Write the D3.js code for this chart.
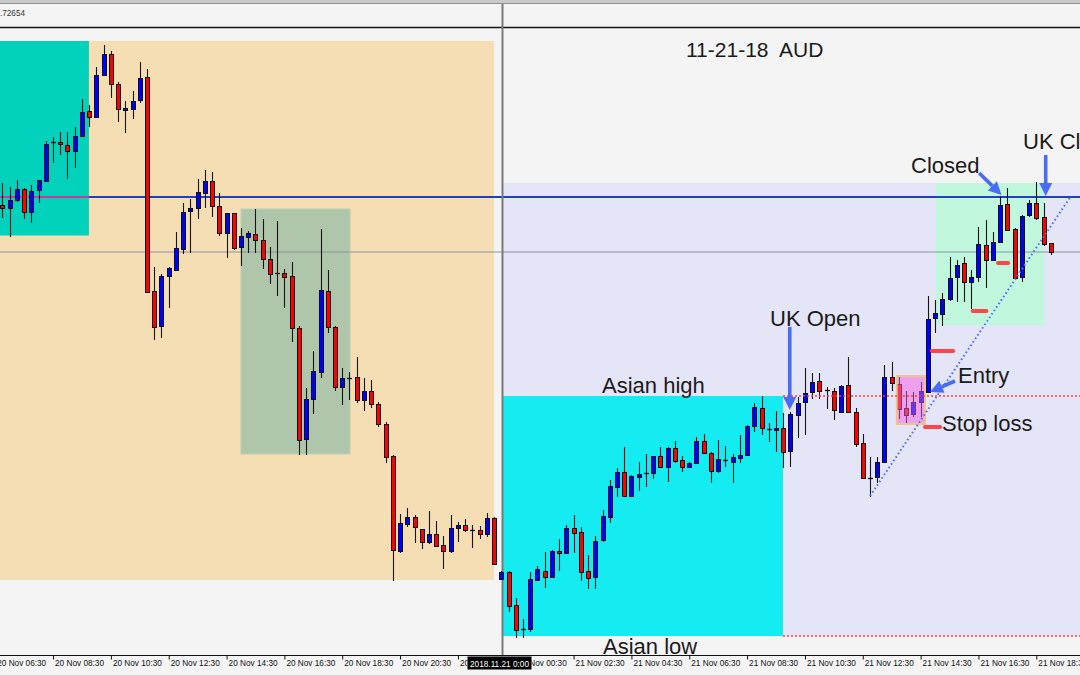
<!DOCTYPE html>
<html><head><meta charset="utf-8">
<script src="https://cdn.jsdelivr.net/npm/d3@7"></script>
<style>html,body{margin:0;padding:0;background:#f4f4f4;}svg{display:block;}</style>
</head><body>
<script>
// ---- DATA (AUD 15-minute candles, 20 Nov 06:45 → 21 Nov 19:00) ----
const firstCandleIndex = -69; // index relative to 2018-11-21 00:00, 15-minute steps
const open = [
0.72822,0.72819,0.72827,0.72838,0.72815,0.72837,0.72846,0.72884,0.72885,0.72882,
0.72876,0.72891,0.72916,0.72910,0.72952,0.72973,0.72943,0.72917,0.72918,0.72927,
0.72950,0.72736,0.72701,0.72751,0.72757,0.72778,0.72816,0.72819,0.72834,0.72846,
0.72821,0.72794,0.72814,0.72780,0.72790,0.72793,0.72787,0.72768,0.72754,0.72754,
0.72751,0.72699,0.72588,0.72628,0.72655,0.72736,0.72700,0.72640,0.72649,0.72650,
0.72627,0.72636,0.72623,0.72603,0.72571,0.72476,0.72503,0.72510,0.72498,0.72485,
0.72493,0.72482,0.72476,0.72499,0.72502,0.72497,0.72497,0.72493,0.72509,0.72448,
0.72455,0.72422,0.72398,0.72398,0.72447,0.72456,0.72450,0.72476,0.72474,0.72499,
0.72495,0.72456,0.72450,0.72487,0.72510,0.72540,0.72555,0.72531,0.72550,0.72554,
0.72554,0.72571,0.72560,0.72579,0.72567,0.72560,0.72564,0.72586,0.72574,0.72556,
0.72567,0.72565,0.72569,0.72572,0.72601,0.72619,0.72598,0.72597,0.72599,0.72576,
0.72612,0.72625,0.72635,0.72646,0.72637,0.72636,0.72615,0.72642,0.72615,0.72584,
0.72549,0.72550,0.72565,0.72650,0.72643,0.72619,0.72613,0.72625,0.72635,0.72709,
0.72713,0.72728,0.72750,0.72764,0.72745,0.72750,0.72782,0.72767,0.72785,0.72823,
0.72798,0.72750,0.72812,0.72824,0.72810,0.72784];
const high = [
0.72844,0.72840,0.72847,0.72839,0.72842,0.72847,0.72886,0.72890,0.72895,0.72895,
0.72900,0.72928,0.72922,0.72960,0.72982,0.72976,0.72945,0.72926,0.72936,0.72965,
0.72958,0.72760,0.72753,0.72760,0.72795,0.72824,0.72828,0.72848,0.72857,0.72855,
0.72834,0.72814,0.72814,0.72799,0.72796,0.72818,0.72808,0.72780,0.72806,0.72758,
0.72765,0.72701,0.72639,0.72676,0.72798,0.72757,0.72701,0.72659,0.72655,0.72670,
0.72649,0.72647,0.72625,0.72605,0.72572,0.72513,0.72519,0.72512,0.72498,0.72516,
0.72506,0.72491,0.72512,0.72505,0.72508,0.72502,0.72501,0.72514,0.72510,0.72456,
0.72456,0.72429,0.72408,0.72455,0.72461,0.72475,0.72477,0.72488,0.72502,0.72512,
0.72500,0.72472,0.72491,0.72517,0.72547,0.72559,0.72580,0.72552,0.72565,0.72573,
0.72571,0.72580,0.72580,0.72586,0.72571,0.72565,0.72590,0.72593,0.72575,0.72587,
0.72581,0.72573,0.72592,0.72602,0.72624,0.72631,0.72604,0.72616,0.72614,0.72615,
0.72630,0.72659,0.72654,0.72654,0.72640,0.72639,0.72642,0.72670,0.72619,0.72593,
0.72570,0.72570,0.72662,0.72665,0.72651,0.72636,0.72635,0.72645,0.72731,0.72727,
0.72734,0.72770,0.72767,0.72770,0.72757,0.72800,0.72807,0.72795,0.72831,0.72839,
0.72799,0.72812,0.72827,0.72845,0.72824,0.72784];
const low = [
0.72809,0.72790,0.72825,0.72808,0.72804,0.72824,0.72845,0.72864,0.72872,0.72848,
0.72859,0.72890,0.72900,0.72910,0.72951,0.72929,0.72905,0.72894,0.72908,0.72924,
0.72734,0.72687,0.72689,0.72719,0.72757,0.72773,0.72774,0.72808,0.72819,0.72810,
0.72791,0.72769,0.72777,0.72761,0.72774,0.72774,0.72758,0.72743,0.72731,0.72719,
0.72685,0.72572,0.72572,0.72613,0.72649,0.72694,0.72636,0.72622,0.72627,0.72624,
0.72616,0.72619,0.72600,0.72564,0.72446,0.72474,0.72500,0.72484,0.72478,0.72483,
0.72481,0.72458,0.72474,0.72485,0.72495,0.72479,0.72488,0.72490,0.72462,0.72447,
0.72415,0.72389,0.72389,0.72395,0.72446,0.72439,0.72450,0.72456,0.72474,0.72474,
0.72446,0.72438,0.72438,0.72485,0.72504,0.72530,0.72530,0.72530,0.72536,0.72540,
0.72548,0.72560,0.72545,0.72564,0.72555,0.72560,0.72564,0.72573,0.72544,0.72554,
0.72560,0.72544,0.72564,0.72571,0.72595,0.72592,0.72585,0.72575,0.72559,0.72560,
0.72589,0.72592,0.72628,0.72628,0.72618,0.72607,0.72614,0.72614,0.72580,0.72548,
0.72530,0.72544,0.72564,0.72636,0.72608,0.72603,0.72610,0.72610,0.72635,0.72694,
0.72701,0.72726,0.72725,0.72725,0.72718,0.72745,0.72739,0.72766,0.72784,0.72797,
0.72749,0.72745,0.72810,0.72807,0.72781,0.72772];
const close = [
0.72819,0.72827,0.72838,0.72815,0.72836,0.72847,0.72883,0.72885,0.72883,0.72876,
0.72891,0.72915,0.72910,0.72952,0.72973,0.72943,0.72918,0.72919,0.72926,0.72949,
0.72735,0.72700,0.72751,0.72759,0.72779,0.72815,0.72819,0.72835,0.72846,0.72821,
0.72794,0.72814,0.72779,0.72791,0.72794,0.72787,0.72768,0.72753,0.72753,0.72750,
0.72699,0.72587,0.72628,0.72656,0.72737,0.72700,0.72640,0.72649,0.72648,0.72627,
0.72636,0.72623,0.72603,0.72570,0.72477,0.72504,0.72510,0.72500,0.72485,0.72493,
0.72481,0.72476,0.72499,0.72502,0.72497,0.72497,0.72493,0.72509,0.72463,0.72455,
0.72421,0.72397,0.72398,0.72448,0.72458,0.72450,0.72476,0.72474,0.72499,0.72494,
0.72455,0.72449,0.72486,0.72511,0.72541,0.72555,0.72531,0.72551,0.72553,0.72554,
0.72571,0.72560,0.72579,0.72566,0.72560,0.72564,0.72586,0.72574,0.72556,0.72568,
0.72567,0.72570,0.72572,0.72601,0.72620,0.72599,0.72598,0.72599,0.72575,0.72613,
0.72624,0.72634,0.72645,0.72636,0.72637,0.72617,0.72641,0.72615,0.72583,0.72549,
0.72549,0.72565,0.72650,0.72644,0.72618,0.72612,0.72625,0.72636,0.72708,0.72714,
0.72728,0.72749,0.72762,0.72745,0.72750,0.72783,0.72767,0.72785,0.72822,0.72797,
0.72749,0.72811,0.72824,0.72809,0.72783,0.72775];

// Levels (prices)
const blueLevel = 0.72830, grayLevel = 0.72775;
const asianHigh = 0.72631, asianLow = 0.72391;
// Axis tick labels: every 2 hours from 20 Nov 06:30 to 21 Nov 18:30
const tickStart = Date.UTC(2018,10,20,6,30), tickCount = 19, tickStepH = 2;

// ---- SCALES ----
const W = 1080, H = 675;
const MIN = 60000, Q = 15*MIN;
const midnight = Date.UTC(2018,10,21,0,0);
const tAt = i => new Date(midnight + i*Q);
const x = d3.scaleUtc().domain([new Date(tickStart), new Date(tickStart + (tickCount-1)*tickStepH*3600000)]).range([-4.8, 1036.3]);
const y = d3.scaleLinear().domain([0.72372, 0.73000]).range([655, 27]);
const X = i => x(tAt(i));

const candles = open.map((o,k)=>({t:tAt(firstCandleIndex+k), o, h:high[k], l:low[k], c:close[k]}));

const svg = d3.select("body").append("svg").attr("width",W).attr("height",H)
  .style("font-family","'Liberation Sans',Arial,sans-serif");
svg.append("rect").attr("width",W).attr("height",H).attr("fill","#f4f4f4");

// top frame
svg.append("rect").attr("x",0).attr("y",0).attr("width",W).attr("height",3).attr("fill","#c9c9c9");
svg.append("line").attr("x1",0).attr("x2",W).attr("y1",3.5).attr("y2",3.5).attr("stroke","#8f8f8f");
svg.append("text").attr("x",0).attr("y",15.5).attr("font-size",9).attr("fill","#333")
  .attr("textLength",25).attr("lengthAdjust","spacingAndGlyphs").text(".72654");

const bg = svg.append("g");
function box(i1,i2,p1,p2,fill,stroke){
  const r = bg.append("rect").attr("x",X(i1)).attr("y",y(p1)).attr("width",X(i2)-X(i1)).attr("height",y(p2)-y(p1)).attr("fill",fill);
  if(stroke) r.attr("stroke",stroke).attr("stroke-width",1);
  return r;
}
// 20 Nov session boxes
bg.append("rect").attr("x",0).attr("y",y(0.72986)).attr("width",X(-1.0)-0).attr("height",y(0.72447)-y(0.72986)).attr("fill","#f5deb4");
bg.append("rect").attr("x",0).attr("y",y(0.72986)).attr("width",X(-57.04)).attr("height",y(0.727915)-y(0.72986)).attr("fill","#02d2bb");
box(-36,-20.92,0.72818,0.72573,"#b0c6aa","#bccfb4");
// 21 Nov
bg.append("rect").attr("x",X(0.08)).attr("y",y(0.72844)).attr("width",W-X(0.08)).attr("height",y(asianLow)-y(0.72844)).attr("fill","#e5e5f8");
box(0.1,38.97,asianHigh,asianLow,"#14ecf1");
box(60.08,75.06,0.72844,0.72702,"#c1f7dd");
box(54.7,58.6,0.72651,0.72603,"#e3b5e3");

// horizontal levels
svg.append("line").attr("x1",0).attr("x2",W).attr("y1",y(grayLevel)).attr("y2",y(grayLevel)).attr("stroke","#8b929c").attr("stroke-width",1.2);
svg.append("line").attr("x1",0).attr("x2",W).attr("y1",y(blueLevel)).attr("y2",y(blueLevel)).attr("stroke","#2040c0").attr("stroke-width",2.2);
svg.append("line").attr("x1",0).attr("x2",X(-57.04)).attr("y1",y(blueLevel)).attr("y2",y(blueLevel)).attr("stroke","#d8349e").attr("stroke-width",2.2);

// top black line & separator
svg.append("line").attr("x1",0).attr("x2",W).attr("y1",27.5).attr("y2",27.5).attr("stroke","#111").attr("stroke-width",1.3);
svg.append("line").attr("x1",502.5).attr("x2",502.5).attr("y1",4).attr("y2",655).attr("stroke","#7a7a7a").attr("stroke-width",2);

// candles
const cg = svg.append("g");
candles.forEach(d=>{
  const c = Math.round(x(d.t));
  cg.append("line").attr("x1",c+0.5).attr("x2",c+0.5).attr("y1",y(d.h)).attr("y2",y(d.l)).attr("stroke","#161616").attr("stroke-width",1.1);
  const yt = y(Math.max(d.o,d.c)), yb = y(Math.min(d.o,d.c));
  if (yb - yt < 1.2) {
    cg.append("line").attr("x1",c-2).attr("x2",c+3).attr("y1",Math.round(yt)+0.5).attr("y2",Math.round(yt)+0.5).attr("stroke","#111").attr("stroke-width",1.3);
  } else {
    cg.append("rect").attr("x",c-1.5).attr("y",Math.round(yt)+0.5).attr("width",4).attr("height",Math.max(1,Math.round(yb-yt)))
      .attr("fill", d.c>d.o ? "#0000ff" : "#ff0000").attr("stroke","#111").attr("stroke-width",1);
  }
});
// violet overlay box
svg.append("rect").attr("x",X(54.7)).attr("y",y(0.72651)).attr("width",X(58.6)-X(54.7)).attr("height",y(0.72603)-y(0.72651))
  .attr("fill","#ff80ff").attr("fill-opacity",0.4).attr("stroke","#f2c48c").attr("stroke-width",2);

// asian range extensions (red dotted)
[asianHigh, asianLow].forEach(p=>{
  svg.append("line").attr("x1",X(38.97)).attr("x2",W).attr("y1",y(p)).attr("y2",y(p))
    .attr("stroke","#ff3a3a").attr("stroke-width",1.3).attr("stroke-dasharray","2,2");
});
// trendline (blue dotted)
svg.append("line").attr("x1",X(51)).attr("y1",y(0.72531)).attr("x2",X(78.8)).attr("y2",y(0.72831))
  .attr("stroke","#4f70f5").attr("stroke-width",2).attr("stroke-dasharray","1.6,2.6");

// red dashes (targets/stop)
[[59.55,62.5,0.72676],[58.6,60.7,0.72600],[65.2,67.1,0.72716],[68.7,70.1,0.72764]].forEach(([a,b,p])=>{
  svg.append("line").attr("x1",X(a)).attr("x2",X(b)).attr("y1",y(p)).attr("y2",y(p))
    .attr("stroke","#ff4545").attr("stroke-width",4).attr("stroke-linecap","round");
});

// arrows
function arrow(x1,y1,x2,y2){
  const a = Math.atan2(y2-y1,x2-x1), L=13, Wd=6.5, col="#4a6cf5";
  const bx = x2-L*Math.cos(a), by = y2-L*Math.sin(a);
  svg.append("line").attr("x1",x1).attr("y1",y1).attr("x2",bx).attr("y2",by).attr("stroke",col).attr("stroke-width",3.6);
  svg.append("path").attr("d",`M${x2},${y2}L${bx+Wd*Math.sin(a)},${by-Wd*Math.cos(a)}L${bx-Wd*Math.sin(a)},${by+Wd*Math.cos(a)}Z`).attr("fill",col);
}
arrow(X(39.9),y(0.72700),X(39.9),y(0.72617));
arrow(X(66.1),y(0.72854),X(69.2),y(0.72832));
arrow(X(75.3),y(0.72872),X(75.3),y(0.72831));
arrow(X(62.75),y(0.72646),X(59.3),y(0.72635));

// annotation texts
const notes = [
  ["11-21-18  AUD",686,57,21],
  ["UK Cl",1023,149,22],
  ["Closed",911,173,22],
  ["UK Open",770,326,22],
  ["Asian high",602,393,22],
  ["Entry",958,383,22],
  ["Stop loss",942,431,22],
  ["Asian low",603,654,22]
];
notes.forEach(([t,tx,ty,fs])=>{
  svg.append("text").attr("x",tx).attr("y",ty).attr("font-size",fs).attr("fill","#1a1a1a").style("white-space","pre").text(t);
});

// x axis
const defs = svg.append("defs");
// the crosshair time box hides part of the axis labels underneath it
defs.append("clipPath").attr("id","axclip").append("path")
  .attr("d","M-10,-5H467.5V20H-10Z M531.5,-5H1100V20H531.5Z");
const tickVals = d3.range(tickCount).map(k=>new Date(tickStart + k*tickStepH*3600000));
svg.append("line").attr("x1",0).attr("x2",W).attr("y1",655.5).attr("y2",655.5).attr("stroke","#111");
const axWrap = svg.append("g").attr("transform","translate(0,655.5)");
const ax = axWrap.append("g").attr("clip-path","url(#axclip)")
  .call(d3.axisBottom(x).tickValues(tickVals).tickFormat(d3.utcFormat("%d %b %H:%M")).tickSize(4).tickSizeOuter(0));
defs.select("#axclip path").attr("transform","translate(0,0)");
ax.select(".domain").remove();
ax.selectAll(".tick line").attr("stroke","#111");
ax.selectAll(".tick text").attr("text-anchor","start").attr("x",1.5).attr("y",4.3).attr("dy","0.71em")
  .attr("font-size",9).attr("fill","#111").attr("font-family","'Liberation Sans',Arial,sans-serif")
  .attr("textLength",49).attr("lengthAdjust","spacingAndGlyphs");
// crosshair time label
svg.append("rect").attr("x",467.5).attr("y",656.5).attr("width",64).attr("height",13).attr("fill","#000");
svg.append("text").attr("x",470).attr("y",666.5).attr("font-size",8.5).attr("fill","#fff")
  .attr("textLength",59).attr("lengthAdjust","spacingAndGlyphs").text("2018.11.21 0:00");
</script>
</body></html>
